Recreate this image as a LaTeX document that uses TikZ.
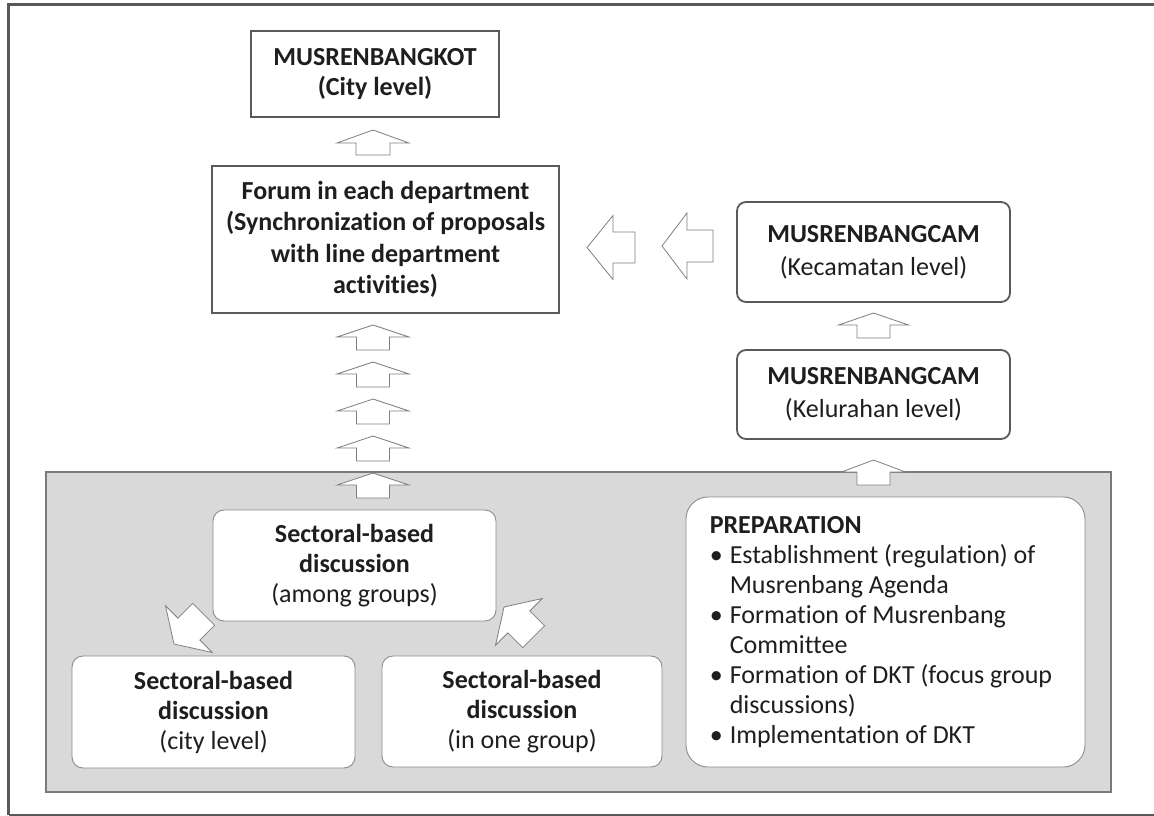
\documentclass[tikz,border=0pt]{standalone}
\usepackage{fontspec}
\setmainfont{Carlito}[Ligatures=NoCommon]
\definecolor{ink}{HTML}{1E1E1E}
\definecolor{framegray}{HTML}{595959}
\definecolor{panelfill}{HTML}{D9D9D9}
\definecolor{panelline}{HTML}{7A7A7A}
\definecolor{boxline}{HTML}{5A5A5A}
\definecolor{softline}{HTML}{8C8C8C}
\definecolor{arrowline}{HTML}{7F7F7F}

% block arrow: tip at #1, turned by #2 degrees (0 = pointing up);
% #3 half head width, #4 head length, #5 half stem width, #6 total length
\newcommand{\blockarrow}[6]{%
  \draw[blk, shift={(#1)}, rotate=#2]
    (0,0) -- (#3,#4) -- (#5,#4) -- (#5,#6) -- (-#5,#6) -- (-#5,#4) -- (-#3,#4) -- cycle;}

\begin{document}
\begin{tikzpicture}[x=1pt, y=-1pt,
  every node/.style={text=ink, font=\fontsize{26}{30}\selectfont, inner sep=0pt},
  sqbox/.style={draw=boxline, line width=1.3pt, fill=white, align=center},
  rbox/.style={draw=boxline, line width=1.8pt, fill=white, align=center, rounded corners=9pt,
    font=\fontsize{26}{33}\selectfont},
  wbox/.style={draw=softline, line width=0.9pt, fill=white, align=center, rounded corners=11pt},
  panel/.style={draw=panelline, line width=1.2pt, fill=panelfill},
  blk/.style={draw=arrowline, line width=0.8pt, fill=white, line join=miter},
  frameline/.style={draw=framegray, line width=#1}]

\useasboundingbox (0,0) rectangle (1154,816);

% outer frame (open on the right)
\draw[frameline=3pt] (7,5) -- (1154,5);
\draw[frameline=3pt] (8.7,5) -- (8.7,815);
\draw[frameline=1.2pt] (8.7,815) -- (1154,815);

% shaded panel holding the discussion steps
\node[panel, minimum width=1065pt, minimum height=320pt] (panel) at (578.5,632) {};

% upper boxes
\node[sqbox, minimum width=248pt, minimum height=86pt] (kot) at (375,74)
  {\textbf{MUSRENBANGKOT}\\\textbf{(City level)}};
\node[sqbox, minimum width=347pt, minimum height=147pt, font=\fontsize{26}{31.5}\selectfont]
  (forum) at (385.5,239.5)
  {\textbf{Forum in each department}\\\textbf{(Synchronization of proposals}\\
   \textbf{with line department}\\\textbf{activities)}};
\node[rbox, minimum width=273pt, minimum height=100pt] (kec) at (873.5,252)
  {\textbf{MUSRENBANGCAM}\\(Kecamatan level)};
\node[rbox, minimum width=273pt, minimum height=89pt] (kel) at (873.5,394.5)
  {\textbf{MUSRENBANGCAM}\\(Kelurahan level)};

% boxes inside the panel
\node[wbox, minimum width=283pt, minimum height=111pt] (among) at (354.5,565.5)
  {\textbf{Sectoral-based}\\\textbf{discussion}\\(among groups)};
\node[wbox, minimum width=283pt, minimum height=112pt] (city) at (213.5,712)
  {\textbf{Sectoral-based}\\\textbf{discussion}\\(city level)};
\node[wbox, minimum width=280pt, minimum height=111pt] (onegroup) at (522,711.5)
  {\textbf{Sectoral-based}\\\textbf{discussion}\\(in one group)};
\node[wbox, rounded corners=22pt, minimum width=399pt, minimum height=270pt] (prep) at (885.5,632) {};
\node[anchor=north west, align=left] (preptext) at ([xshift=24pt, yshift=-20pt]prep.north west)
  {\textbf{PREPARATION}\\
   \makebox[20pt][l]{\textbullet}Establishment (regulation) of\\
   \hspace*{20pt}Musrenbang Agenda\\
   \makebox[20pt][l]{\textbullet}Formation of Musrenbang\\
   \hspace*{20pt}Committee\\
   \makebox[20pt][l]{\textbullet}Formation of DKT (focus group\\
   \hspace*{20pt}discussions)\\
   \makebox[20pt][l]{\textbullet}Implementation of DKT};

% tips of the block arrows
\coordinate (t1) at (373,130);
\coordinate (c1) at (373,325);
\coordinate (c2) at (373,362);
\coordinate (c3) at (373,399);
\coordinate (c4) at (373,436);
\coordinate (c5) at (373,473);
\coordinate (k1) at (873.5,313);
\coordinate (k2) at (873.5,460);
\coordinate (l1) at (587,247.5);
\coordinate (l2) at (662,246);
\coordinate (d1) at (174,644);
\coordinate (d2) at (504,607);

% upward arrows
\blockarrow{t1}{0}{36}{13}{17}{25}
\foreach \c in {c1,c2,c3,c4,c5}{\blockarrow{\c}{0}{36}{12}{16.5}{25}}
\blockarrow{k1}{0}{35}{12}{16.5}{25}
\blockarrow{k2}{0}{32}{12}{16.5}{25}

% leftward arrows towards the forum
\blockarrow{l1}{90}{32}{26}{15.5}{48}
\blockarrow{l2}{90}{33}{25}{16}{51}

% diagonal arrows between the discussion boxes
\blockarrow{d1}{135}{33}{21}{15.5}{42}
\blockarrow{d2}{45}{33}{21}{15.5}{42}
\end{tikzpicture}
\end{document}
